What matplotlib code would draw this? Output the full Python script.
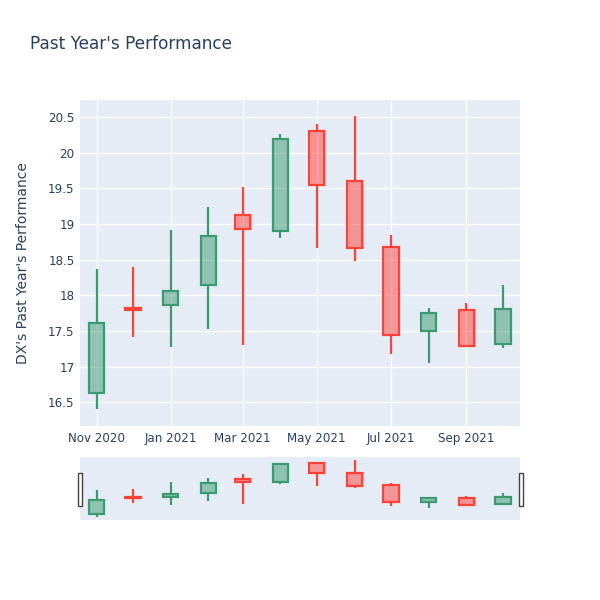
import matplotlib
matplotlib.use('Agg')
import matplotlib.pyplot as plt
import matplotlib.dates as mdates
import matplotlib.patches as mpatches
import pandas as pd

# monthly candles for DX
dates = pd.date_range('2020-11-01', periods=12, freq='MS')
opens = [16.63, 17.82, 17.86, 18.14, 19.13, 18.91, 20.30, 19.61, 18.68, 17.50, 17.80, 17.32]
highs = [18.37, 18.40, 18.92, 19.24, 19.52, 20.26, 20.41, 20.51, 18.85, 17.83, 17.90, 18.14]
lows = [16.41, 17.42, 17.28, 17.53, 17.30, 18.81, 18.67, 18.49, 17.18, 17.06, 17.29, 17.26]
closes = [17.61, 17.79, 18.06, 18.83, 18.93, 20.20, 19.55, 18.67, 17.45, 17.76, 17.29, 17.81]

INC = '#3D9970'
DEC = '#FF4136'
BG = '#E5ECF6'
TXT = '#2a3f5f'
plt.rcParams['font.family'] = ['DejaVu Sans']

fig = plt.figure(figsize=(6, 6), dpi=100)
ax = fig.add_axes([80/600, 1-426/600, 440/600, 326/600])
sl = fig.add_axes([80/600, 1-520/600, 440/600, 63/600])

x = mdates.date2num(dates)
width = 12.6


def draw_candles(a, lw):
    for xi, o, h, l, c in zip(x, opens, highs, lows, closes):
        col = INC if c >= o else DEC
        top = max(o, c)
        bot = min(o, c)
        a.vlines(xi, top, h, color=col, lw=lw, zorder=3)
        a.vlines(xi, l, bot, color=col, lw=lw, zorder=3)
        a.bar(xi, top - bot, bottom=bot, width=width, color=col, alpha=0.5,
              zorder=3, linewidth=0)
        a.bar(xi, top - bot, bottom=bot, width=width, fill=False,
              edgecolor=col, linewidth=lw, zorder=4)


draw_candles(ax, 1.6)
draw_candles(sl, 1.6)

xlim = (x[0] - 13.6, x[-1] + 14)
ylim = (16.17, 20.74)
for a in (ax, sl):
    a.set_facecolor(BG)
    a.set_xlim(xlim)
    a.set_ylim(ylim)
    for s in a.spines.values():
        s.set_visible(False)

ax.set_axisbelow(True)
ax.grid(True, color='white', linewidth=1)
ax.set_yticks([16.5, 17, 17.5, 18, 18.5, 19, 19.5, 20, 20.5])
ax.set_yticklabels(['16.5', '17', '17.5', '18', '18.5', '19', '19.5', '20', '20.5'])
ax.xaxis.set_major_locator(mdates.MonthLocator(bymonth=[1, 3, 5, 7, 9, 11]))
ax.xaxis.set_major_formatter(mdates.DateFormatter('%b %Y'))
ax.tick_params(length=0, labelsize=8.6, labelcolor=TXT, pad=4)
ax.set_ylabel("DX's Past Year's Performance", fontsize=10, color=TXT)
ax.yaxis.set_label_coords(-50/440, 0.5)

sl.set_xticks([])
sl.set_yticks([])

# range slider handles
for hx in (77.5/600, 518.5/600):
    fig.patches.append(mpatches.Rectangle((hx, 1-506/600), 4/600, 33/600,
                                          transform=fig.transFigure, facecolor='white',
                                          edgecolor='#444444', linewidth=1))

fig.text(30/600, 1-44/600, "Past Year's Performance", fontsize=12.2, color=TXT,
         va='center', ha='left')

fig.savefig('out.png', dpi=100)
